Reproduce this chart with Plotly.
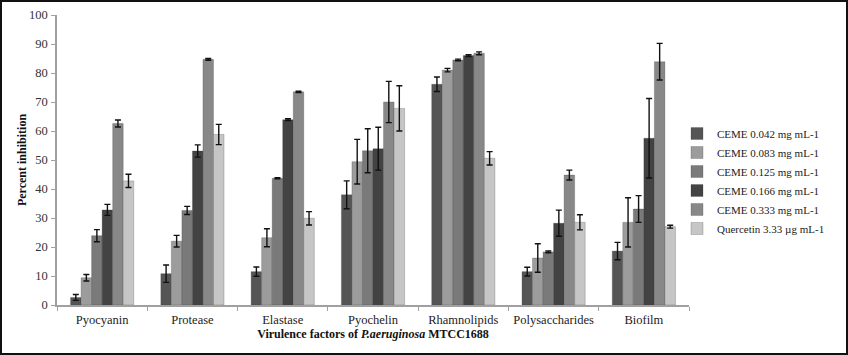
import plotly.graph_objects as go

categories = ["Pyocyanin", "Protease", "Elastase", "Pyochelin", "Rhamnolipids", "Polysaccharides", "Biofilm"]
series_names = ["CEME 0.042 mg mL-1", "CEME 0.083 mg mL-1", "CEME 0.125 mg mL-1",
                "CEME 0.166 mg mL-1", "CEME 0.333 mg mL-1", "Quercetin 3.33 \u00b5g mL-1"]

ceme_0042 = [2.6, 10.8, 11.5, 38.0, 76.1, 11.5, 18.6]
ceme_0042_err = [1.0, 3.0, 1.6, 4.8, 2.5, 1.5, 3.0]
ceme_0083 = [9.4, 22.0, 23.2, 49.4, 81.0, 16.2, 28.5]
ceme_0083_err = [1.1, 2.0, 3.1, 7.7, 0.6, 4.9, 8.5]
ceme_0125 = [23.9, 32.6, 43.7, 53.2, 84.5, 18.3, 33.1]
ceme_0125_err = [2.1, 1.4, 0.2, 7.6, 0.3, 0.3, 4.6]
ceme_0166 = [32.8, 53.1, 63.9, 53.9, 86.0, 28.2, 57.5]
ceme_0166_err = [1.9, 2.1, 0.3, 7.4, 0.3, 4.5, 13.7]
ceme_0333 = [62.6, 84.7, 73.5, 70.0, 86.8, 44.8, 83.9]
ceme_0333_err = [1.2, 0.3, 0.2, 7.1, 0.5, 1.7, 6.3]
quercetin = [42.8, 58.8, 29.9, 67.8, 50.6, 28.5, 27.0]
quercetin_err = [2.3, 3.5, 2.3, 7.8, 2.3, 2.6, 0.5]

values = [ceme_0042, ceme_0083, ceme_0125, ceme_0166, ceme_0333, quercetin]
errors = [ceme_0042_err, ceme_0083_err, ceme_0125_err, ceme_0166_err, ceme_0333_err, quercetin_err]
colors = ["#555555", "#9c9c9c", "#7a7a7a", "#434343", "#888888", "#c6c6c6"]

y_ticks = [0, 10, 20, 30, 40, 50, 60, 70, 80, 90, 100]

FONT = "Liberation Serif, Times New Roman, serif"

fig = go.Figure()
for name, v, e, c in zip(series_names, values, errors, colors):
    fig.add_trace(go.Bar(
        x=categories, y=v, name=name,
        marker=dict(color=c, line=dict(color="rgba(60,60,60,0.5)", width=0.5)),
        error_y=dict(type="data", array=e, visible=True, color="#111111", thickness=1.4, width=3),
    ))

L, R, T, B = 57, 159, 15, 50
W, H = 848, 355
pw, ph = W - L - R, H - T - B

def px_x(x):
    return (x - L) / pw

def px_y(y):
    return (H - B - y) / ph

fig.update_layout(
    width=W, height=H,
    margin=dict(l=L, r=R, t=T, b=B, pad=0, autoexpand=False),
    paper_bgcolor="white", plot_bgcolor="white",
    barmode="group", bargap=0.3, bargroupgap=0.0,
    font=dict(family=FONT, size=12, color="#222222"),
    legend=dict(x=px_x(677), y=px_y(181), xanchor="left", yanchor="middle",
                font=dict(family=FONT, size=11, color="#222222"),
                itemwidth=30, tracegroupgap=0, bgcolor="rgba(0,0,0,0)"),
    xaxis=dict(
        automargin=False,
        showline=True, linecolor="#a0a0a0", linewidth=1.5,
        ticks="outside", tickson="boundaries", ticklen=4, tickcolor="#a0a0a0",
        ticklabelstandoff=2,
        tickfont=dict(family=FONT, size=12.5, color="#222222"),
        title=dict(text="<b>Virulence factors of <i>P.aeruginosa</i> MTCC1688</b>",
                   font=dict(family=FONT, size=12, color="#111111"), standoff=2),
    ),
    yaxis=dict(
        automargin=False,
        range=[0, 100], tickvals=y_ticks, showgrid=False, zeroline=False,
        showline=True, linecolor="#a0a0a0", linewidth=1.5,
        ticks="outside", ticklen=4, tickcolor="#a0a0a0",
        ticklabelstandoff=1,
        tickfont=dict(family=FONT, size=12.5, color="#333333"),
        title=dict(text="<b>Percent inhibition</b>",
                   font=dict(family=FONT, size=12, color="#111111"), standoff=0),
    ),
    shapes=[dict(type="rect", xref="paper", yref="paper",
                 x0=px_x(1), x1=px_x(847), y0=px_y(354), y1=px_y(1),
                 line=dict(color="#111111", width=2), fillcolor="rgba(0,0,0,0)", layer="above")],
)

fig.write_html("out.html", config={"displayModeBar": False},
               post_script="document.body.style.margin='0px';document.body.style.overflow='hidden';")
